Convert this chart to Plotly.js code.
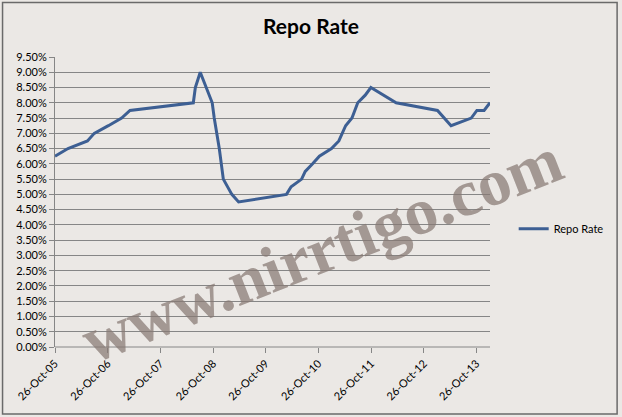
<!DOCTYPE html>
<html>
<head>
<meta charset="utf-8">
<script src="https://cdn.plot.ly/plotly-3.0.1.min.js"></script>
<style>
  html, body { margin: 0; padding: 0; background: #ebe8e5; }
  #chart { width: 622px; height: 417px; }
</style>
</head>
<body>
<div id="chart"></div>
<script>
// Policy dates and repo rate (as fractions)
const dates = ['2005-10-26','2006-01-24','2006-06-08','2006-07-25','2006-10-31','2007-01-31','2007-03-30',
  '2008-06-11','2008-06-25','2008-07-29','2008-10-20','2008-11-03','2008-12-08','2009-01-05','2009-03-05','2009-04-21',
  '2010-03-19','2010-04-20','2010-07-02','2010-07-27','2010-09-16','2010-11-02','2011-01-25','2011-03-17','2011-05-03',
  '2011-06-16','2011-07-26','2011-09-16','2011-10-25','2012-04-17','2013-01-29','2013-03-19','2013-05-03','2013-09-20',
  '2013-10-29','2013-12-18','2014-01-28'];
const repoRate = [0.0625,0.065,0.0675,0.07,0.0725,0.075,0.0775,
  0.08,0.085,0.09,0.08,0.075,0.065,0.055,0.05,0.0475,
  0.05,0.0525,0.055,0.0575,0.06,0.0625,0.065,0.0675,0.0725,
  0.075,0.08,0.0825,0.085,0.08,0.0775,0.075,0.0725,0.075,
  0.0775,0.0775,0.08];
const seriesName = 'Repo Rate';
const chartTitle = 'Repo Rate';
const watermark = 'www.nirrtigo.com';

// layout geometry (pixels)
const W = 622, H = 417;
const L = 55, R = 131.7, T = 57, B = 69.5;
const pw = W - L - R, ph = H - T - B;
const px2x = p => (p - L) / pw;
const py2y = p => (H - B - p) / ph;

const trace = {
  x: dates, y: repoRate, type: 'scatter', mode: 'lines', name: seriesName,
  line: { color: '#3d5f93', width: 3 }
};

const layout = {
  width: W, height: H,
  margin: { l: L, r: R, t: T, b: B, pad: 0 },
  paper_bgcolor: '#ebe8e5', plot_bgcolor: '#ebe8e5',
  font: { family: 'Lato, sans-serif', size: 11, color: '#000' },
  title: {
    text: chartTitle, xref: 'container', x: 0.5, xanchor: 'center',
    yref: 'container', y: 1 - 27 / H, yanchor: 'middle',
    font: { family: 'Lato, sans-serif', size: 21, weight: 700, color: '#000' }
  },
  xaxis: {
    type: 'date', range: ['2005-10-26', '2014-01-28'],
    tick0: '2005-10-26', dtick: 'M12', tickformat: '%d-%b-%y',
    tickangle: -45, ticks: 'outside', ticklen: 5, tickcolor: '#868686',
    showgrid: false, showline: false, zeroline: false,
    tickfont: { family: 'Lato, sans-serif', size: 11, color: '#000' }
  },
  yaxis: {
    range: [0, 0.095], dtick: 0.005, tick0: 0, tickformat: '.2%',
    ticks: 'outside', ticklen: 5, tickcolor: '#868686',
    showgrid: true, gridcolor: '#868686', gridwidth: 1,
    showline: true, linecolor: '#868686', linewidth: 1, zeroline: false,
    tickfont: { family: 'Lato, sans-serif', size: 11, color: '#000' }
  },
  showlegend: true,
  legend: {
    x: px2x(514), y: py2y(229), xanchor: 'left', yanchor: 'middle',
    bgcolor: 'rgba(0,0,0,0)', borderwidth: 0,
    font: { family: 'Lato, sans-serif', size: 11, color: '#000' }
  },
  shapes: [
    { type: 'line', xref: 'paper', yref: 'paper', x0: 0, x1: 1, y0: 0, y1: 0,
      line: { color: '#868686', width: 1 } },
    { type: 'rect', xref: 'paper', yref: 'paper',
      x0: px2x(2.5), x1: px2x(617.5), y0: py2y(414.5), y1: py2y(2.5),
      line: { color: '#6a6a6a', width: 1.5 }, fillcolor: 'rgba(0,0,0,0)' }
  ],
  annotations: [
    { text: watermark, xref: 'paper', yref: 'paper', x: px2x(322), y: py2y(250),
      xanchor: 'center', yanchor: 'middle', showarrow: false, textangle: -21.5,
      font: { family: 'Liberation Serif, serif', size: 66, weight: 700, color: 'rgba(135,120,115,0.72)' } }
  ]
};

Plotly.newPlot('chart', [trace], layout, { displayModeBar: false, staticPlot: true });
</script>
</body>
</html>
